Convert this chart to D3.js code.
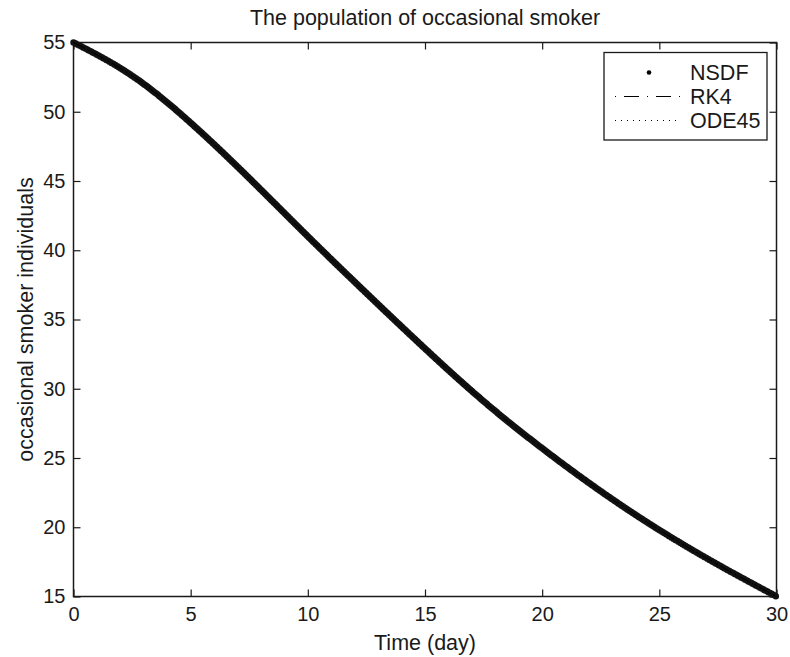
<!DOCTYPE html>
<html>
<head>
<meta charset="utf-8">
<script src="https://cdn.jsdelivr.net/npm/d3@7"></script>
<style>
  body { margin: 0; background: #fff; }
  text { font-family: 'Liberation Sans', Arial, sans-serif; fill: #1a1a1a; }
</style>
</head>
<body>
<div id="chart"></div>
<script>
// time in days
const days = [0, 2.5, 5, 7.5, 10, 12.5, 15, 17.5, 20, 22.5, 25, 27.5, 30];
// occasional smoker individuals, per method
const nsdf = [55, 52.6, 49.2, 45.2, 41.0, 36.9, 32.9, 29.1, 25.7, 22.6, 19.8, 17.3, 15.0];
const rk4 = [55, 52.6, 49.2, 45.2, 41.0, 36.9, 32.9, 29.1, 25.7, 22.6, 19.8, 17.3, 15.0];
const ode45 = [55, 52.6, 49.2, 45.2, 41.0, 36.9, 32.9, 29.1, 25.7, 22.6, 19.8, 17.3, 15.0];
const xTicks = [0, 5, 10, 15, 20, 25, 30];
const yTicks = [15, 20, 25, 30, 35, 40, 45, 50, 55];
const legendNames = ['NSDF', 'RK4', 'ODE45'];

const margin = { top: 42.5, right: 13.5, bottom: 60.5, left: 73.5 };
const width = 790 - margin.left - margin.right;
const height = 657 - margin.top - margin.bottom;

const svg = d3.select('#chart')
  .append('svg')
  .attr('width', 790)
  .attr('height', 657);

const g = svg.append('g')
  .attr('transform', 'translate(' + margin.left + ',' + margin.top + ')');

const x = d3.scaleLinear().domain([0, 30]).range([0, width]);
const y = d3.scaleLinear().domain([15, 55]).range([height, 0]);

// axes, matlab style: ticks inside on all four sides
const tickLen = 7;
g.append('g')
  .attr('transform', 'translate(0,' + height + ')')
  .call(d3.axisBottom(x).tickValues(xTicks).tickSizeInner(-tickLen).tickSizeOuter(0).tickPadding(10))
  .call(a => a.selectAll('text').attr('font-size', 20));
g.append('g')
  .call(d3.axisTop(x).tickValues(xTicks).tickSizeInner(-tickLen).tickSizeOuter(0).tickFormat(''));
g.append('g')
  .call(d3.axisLeft(y).tickValues(yTicks).tickSizeInner(-tickLen).tickSizeOuter(0).tickPadding(8))
  .call(a => a.selectAll('text').attr('font-size', 20));
g.append('g')
  .attr('transform', 'translate(' + width + ',0)')
  .call(d3.axisRight(y).tickValues(yTicks).tickSizeInner(-tickLen).tickSizeOuter(0).tickFormat(''));

g.selectAll('.domain').remove();
g.selectAll('.tick line').attr('stroke', '#1a1a1a').attr('stroke-width', 1.2);
g.append('rect')
  .attr('width', width)
  .attr('height', height)
  .attr('fill', 'none')
  .attr('stroke', '#1a1a1a')
  .attr('stroke-width', 1.5);

const line = d3.line()
  .x((d, i) => x(days[i]))
  .y(d => y(d))
  .curve(d3.curveNatural);

// NSDF: very dense dots, reads as a thick line
g.append('path')
  .datum(nsdf)
  .attr('d', line)
  .attr('fill', 'none')
  .attr('stroke', '#111')
  .attr('stroke-width', 6.5)
  .attr('stroke-linecap', 'round')
  .attr('stroke-dasharray', '0,1.2');

g.append('path')
  .datum(rk4)
  .attr('d', line)
  .attr('fill', 'none')
  .attr('stroke', '#000')
  .attr('stroke-width', 1)
  .attr('stroke-dasharray', '12,4,2,4');

g.append('path')
  .datum(ode45)
  .attr('d', line)
  .attr('fill', 'none')
  .attr('stroke', '#000')
  .attr('stroke-width', 1)
  .attr('stroke-dasharray', '1,3');

// labels
svg.append('text')
  .attr('x', margin.left + width / 2)
  .attr('y', 25)
  .attr('text-anchor', 'middle')
  .attr('font-size', 21.5)
  .text('The population of occasional smoker');

svg.append('text')
  .attr('x', margin.left + width / 2)
  .attr('y', 650)
  .attr('text-anchor', 'middle')
  .attr('font-size', 21.5)
  .text('Time (day)');

svg.append('text')
  .attr('transform', 'translate(33,' + (margin.top + height / 2) + ')rotate(-90)')
  .attr('text-anchor', 'middle')
  .attr('font-size', 21.5)
  .text('occasional smoker individuals');

// legend
const legend = svg.append('g').attr('transform', 'translate(604,52.5)');
legend.append('rect')
  .attr('width', 163)
  .attr('height', 87.5)
  .attr('fill', '#fff')
  .attr('stroke', '#1a1a1a')
  .attr('stroke-width', 1.3);

const rows = legend.selectAll('g.row')
  .data(legendNames)
  .enter()
  .append('g')
  .attr('class', 'row')
  .attr('transform', (d, i) => 'translate(0,' + (20 + i * 24) + ')');

rows.append('text')
  .attr('x', 86)
  .attr('dy', '0.36em')
  .attr('font-size', 21.5)
  .text(d => d);

legend.append('circle')
  .attr('cx', 45)
  .attr('cy', 20)
  .attr('r', 2.3)
  .attr('fill', '#000');

legend.append('line')
  .attr('x1', 11).attr('x2', 77)
  .attr('y1', 44).attr('y2', 44)
  .attr('stroke', '#000')
  .attr('stroke-width', 1)
  .attr('stroke-dasharray', '1,8,15,8')
  .attr('stroke-dashoffset', 0);

legend.append('line')
  .attr('x1', 11).attr('x2', 77)
  .attr('y1', 68).attr('y2', 68)
  .attr('stroke', '#000')
  .attr('stroke-width', 1)
  .attr('stroke-dasharray', '1,5');
</script>
</body>
</html>
